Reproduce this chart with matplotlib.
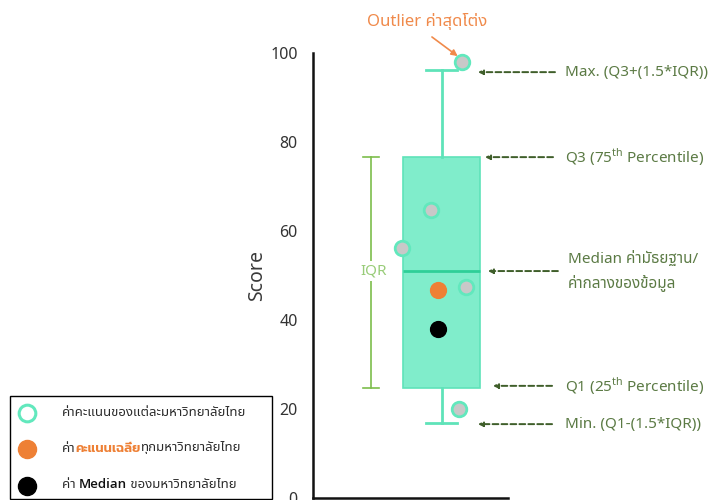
import matplotlib
matplotlib.use("Agg")
import matplotlib.pyplot as plt
from matplotlib.patches import Rectangle
from matplotlib.lines import Line2D

plt.rcParams['font.family'] = ['Noto Sans', 'Noto Sans Thai', 'DejaVu Sans']
plt.rcParams['mathtext.fontset'] = 'custom'
plt.rcParams['mathtext.rm'] = 'Noto Sans'

# ---------------- data ----------------
q1, median, q3 = 24.7, 51.0, 76.6
whisker_low, whisker_high = 16.9, 96.2
uni_scores = [98.0, 64.7, 56.2, 47.4, 20.0]
mean_score = 46.7
median_score = 38.0
yticks = [0, 20, 40, 60, 80, 100]
ylabel = "Score"
legend_labels = ["ค่าคะแนนของแต่ละมหาวิทยาลัยไทย", "ค่าคะแนนเฉลี่ยทุกมหาวิทยาลัยไทย", "ค่า Median ของมหาวิทยาลัยไทย"]

# ---------------- layout ----------------
uni_x = [0.764, 0.605, 0.456, 0.785, 0.749]
avg_x = 0.641
box_pos = 0.659

BOX_FILL = '#80edcb'
BOX_EDGE = '#5fe3b9'
MED_COL = '#2fcf98'
PT_FILL = '#c8c8c8'
PT_EDGE = '#62e8bd'
ORANGE = '#ee8035'
ANN_TXT = '#5b7a44'
ANN_ARR = '#3f5e2a'
IQR_COL = '#7dbd4c'

fig = plt.figure(figsize=(7.14, 5), dpi=100)
ax = fig.add_axes([313/714, 2/500, 195/714, 445/500])
ax.set_xlim(0, 1)
ax.set_ylim(0, 100)

stats = [dict(med=median, q1=q1, q3=q3, whislo=whisker_low, whishi=whisker_high, fliers=[])]
ax.bxp(stats, positions=[box_pos], widths=0.395, capwidths=0.164, patch_artist=True,
       showfliers=False,
       boxprops=dict(facecolor=BOX_FILL, edgecolor=BOX_EDGE, linewidth=1.2),
       medianprops=dict(color=MED_COL, linewidth=2),
       whiskerprops=dict(color=BOX_EDGE, linewidth=2),
       capprops=dict(color=BOX_EDGE, linewidth=2), manage_ticks=False)

ax.scatter(uni_x, uni_scores, s=110, facecolor=PT_FILL, edgecolor=PT_EDGE, linewidth=2, zorder=5, clip_on=False)
ax.scatter([avg_x], [mean_score], s=130, color=ORANGE, zorder=5)
ax.scatter([avg_x], [median_score], s=130, color='black', zorder=5)

for s in ['top', 'right']:
    ax.spines[s].set_visible(False)
for s in ['left', 'bottom']:
    ax.spines[s].set_linewidth(1.8)
    ax.spines[s].set_color('#111111')
ax.set_xticks([])
ax.set_yticks(yticks)
ax.tick_params(axis='y', length=0, pad=11, labelsize=11.5, labelcolor='#333333')
ax.set_ylabel(ylabel, fontsize=14, color='#3a3a3a', labelpad=2)

# IQR bracket
bx = 0.297
ax.plot([bx, bx], [q1, q3], color=IQR_COL, lw=1.2)
ax.plot([bx - 0.041, bx + 0.041], [q3, q3], color=IQR_COL, lw=1.2)
ax.plot([bx - 0.041, bx + 0.041], [q1, q1], color=IQR_COL, lw=1.2)
ax.text(bx + 0.015, median, "IQR", ha='center', va='center', fontsize=11, color='#98cc78',
        bbox=dict(facecolor='white', edgecolor='none', pad=2))

# annotations
arrowp = dict(arrowstyle='-|>', linestyle=(0, (3, 1.6)), color=ANN_ARR, lw=1.4,
              mutation_scale=7, shrinkA=0, shrinkB=0)
anns = [
    (whisker_high - 0.5, 0.846, 1.241, 1.292, "Max. (Q3+(1.5*IQR))"),
    (q3, 0.882, 1.231, 1.292, "Q3 (75$^{\\mathrm{th}}$ Percentile)"),
    (q1 + 0.5, 0.923, 1.226, 1.292, "Q1 (25$^{\\mathrm{th}}$ Percentile)"),
    (whisker_low - 0.3, 0.846, 1.226, 1.292, "Min. (Q1-(1.5*IQR))"),
]
for y, xtip, xtail, xt, txt in anns:
    ax.annotate("", xy=(xtip, y), xytext=(xtail, y), arrowprops=arrowp, annotation_clip=False)
    ax.text(xt, y, txt, ha='left', va='center', fontsize=11, color=ANN_TXT, clip_on=False)
ax.annotate("", xy=(0.897, median), xytext=(1.256, median), arrowprops=arrowp, annotation_clip=False)
ax.text(1.308, median, "Median ค่ามัธยฐาน/\nค่ากลางของข้อมูล", ha='left', va='center', fontsize=11,
        color=ANN_TXT, linespacing=1.5, clip_on=False)

# outlier label
ax.text(0.585, 107, "Outlier ค่าสุดโต่ง", ha='center', va='center', fontsize=12, color='#f08a4b',
        clip_on=False)
ax.annotate("", xy=(uni_x[0] - 0.022, uni_scores[0] + 1.3), xytext=(0.610, 103.6),
            annotation_clip=False,
            arrowprops=dict(arrowstyle='-|>', color='#f08a4b', lw=1.2, mutation_scale=9,
                            shrinkA=0, shrinkB=0))

# legend
W, H = 714, 500
fig.patches.append(Rectangle((10/W, 1/H), 262/W, 103/H, transform=fig.transFigure,
                             facecolor='white', edgecolor='black', lw=1.0))
fig.add_artist(Line2D([27/W], [1 - 413/H], marker='o', ms=12, mfc='white', mec=PT_EDGE, mew=2.2,
                      transform=fig.transFigure))
fig.add_artist(Line2D([27/W], [1 - 449/H], marker='o', ms=13, mfc=ORANGE, mec=ORANGE,
                      transform=fig.transFigure))
fig.add_artist(Line2D([27/W], [1 - 486/H], marker='o', ms=13, mfc='black', mec='black',
                      transform=fig.transFigure))

renderer = fig.canvas.get_renderer()
REG = ['Noto Sans', 'Noto Sans Thai', 'DejaVu Sans']
BOLD = ['Open Sans', 'Kanit', 'DejaVu Sans']

def seq_text(x_px, y_px, parts):
    x = x_px
    for txt, col, bold in parts:
        t = fig.text(x / W, 1 - y_px / H, txt, ha='left', va='center', fontsize=9.5,
                     color=col, family=BOLD if bold else REG,
                     fontweight='semibold' if bold else 'normal')
        bb = t.get_window_extent(renderer)
        x += bb.width

LEG_TXT = '#2a2a2a'
seq_text(62, 412, [(legend_labels[0], LEG_TXT, False)])
seq_text(62, 448, [("ค่า", LEG_TXT, False), ("คะแนนเฉลี่ย", ORANGE, True),
                   ("ทุกมหาวิทยาลัยไทย", LEG_TXT, False)])
seq_text(62, 485, [("ค่า ", LEG_TXT, False), ("Median", '#111111', True),
                   (" ของมหาวิทยาลัยไทย", LEG_TXT, False)])

fig.savefig("out.png", dpi=100)
